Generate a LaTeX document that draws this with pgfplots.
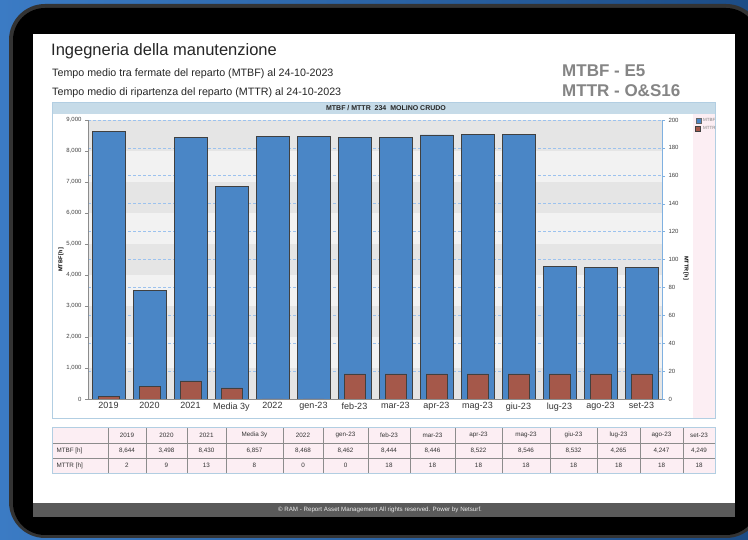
\documentclass[border=0pt]{standalone}
\usepackage{fontspec}
\setmainfont{Liberation Sans}
\usepackage{pgfplots}
\pgfplotsset{compat=1.18}
\definecolor{bgA}{HTML}{3B7BC4}
\definecolor{bgB}{HTML}{1C4C86}
\definecolor{footgray}{HTML}{5A5A5A}
\definecolor{titgray}{HTML}{858585}
\definecolor{pinkc}{HTML}{FCEEF3}
\definecolor{bandblue}{HTML}{C6DBE8}
\definecolor{panelb}{HTML}{B2CEE2}
\definecolor{mtbfc}{HTML}{4A86C6}
\definecolor{mttrc}{HTML}{A5584A}
\definecolor{bandD}{HTML}{E5E5E5}
\definecolor{bandL}{HTML}{F2F2F2}
\definecolor{gridc}{HTML}{9CC2EE}
\definecolor{raxis}{HTML}{7FB0E0}
\newcommand{\fs}[1]{\fontsize{#1}{#1}\selectfont}
\begin{document}
\begin{tikzpicture}
\begin{scope}[x=1pt,y=1pt]
\useasboundingbox (0,0) rectangle (748,540);
\shade[left color=bgA, right color=bgB] (0,0) rectangle (748,540);
\fill[black!80, rounded corners=36] (9,2) rectangle (762,536);
\fill[black, rounded corners=32] (13,5) rectangle (758,532);
\fill[white] (33,23) rectangle (735,506);
\fill[footgray] (33,23) rectangle (735,37);
\node[text=white!85!gray, font=\fs{6.2}] at (380,30) {\textcopyright{} RAM - Report Asset Management All rights reserved. Power by Netsurf.};
% header texts
\node[anchor=west, inner sep=0, font=\fs{16.5}, text=black!85] at (51,489) {Ingegneria della manutenzione};
\node[anchor=west, inner sep=0, font=\fs{10.7}, text=black!85] at (52,466) {Tempo medio tra fermate del reparto (MTBF) al 24-10-2023};
\node[anchor=west, inner sep=0, font=\fs{10.7}, text=black!85] at (52,447) {Tempo medio di ripartenza del reparto (MTTR) al 24-10-2023};
\node[anchor=west, inner sep=0, font=\bfseries\fs{17}, text=titgray] at (562,469) {MTBF - E5};
\node[anchor=west, inner sep=0, font=\bfseries\fs{17}, text=titgray] at (562,449) {MTTR - O\&S16};
% chart panel
\fill[white] (52,122) rectangle (715,438);
\fill[pinkc] (693,122) rectangle (715,426);
\fill[bandblue] (52,426) rectangle (715,438);
\draw[panelb] (52,122) rectangle (715,438);
\node[font=\bfseries\fs{7}, text=black!85] at (386,432) {MTBF / MTTR\ \ 234\ \ MOLINO CRUDO};
\node[rotate=90, font=\bfseries\fs{5.5}] at (61,280) {MTBF [h]};
\node[rotate=-90, font=\bfseries\fs{5.5}] at (686,272) {MTTR [h]};
\end{scope}
% left axis: MTBF
\begin{axis}[
  at={(88pt,141pt)}, anchor=south west,
  width=574pt, height=279pt, scale only axis,
  xmin=-0.5, xmax=13.5, ymin=0, ymax=9000,
  axis lines*=left, axis on top,
  axis line style={black!45},
  ytick={0,1000,...,9000},
  xtick={0,...,13},
  xticklabels={2019,2020,2021,Media 3y,2022,gen-23,feb-23,mar-23,apr-23,mag-23,giu-23,lug-23,ago-23,set-23},
  x tick label style={font=\fs{9}, text=black!80},
  y tick label style={font=\fs{6}, text=black!75},
  yticklabel style={/pgf/number format/1000 sep={,}},
  /pgf/number format/assume math mode=true,
  xtick style={draw=none},
  ytick style={draw=black!45},
  ytick align=outside, major tick length=3pt,
  axis background/.style={fill=bandL},
]
\fill[bandD] (axis cs:-0.5,0) rectangle (axis cs:13.5,1000);
\fill[bandD] (axis cs:-0.5,2000) rectangle (axis cs:13.5,3000);
\fill[bandD] (axis cs:-0.5,4000) rectangle (axis cs:13.5,5000);
\fill[bandD] (axis cs:-0.5,6000) rectangle (axis cs:13.5,7000);
\fill[bandD] (axis cs:-0.5,8000) rectangle (axis cs:13.5,9000);
\draw[gridc, dash pattern=on 3pt off 2pt, line width=0.7pt] (axis cs:-0.5,900) -- (axis cs:13.5,900);
\draw[gridc, dash pattern=on 3pt off 2pt, line width=0.7pt] (axis cs:-0.5,1800) -- (axis cs:13.5,1800);
\draw[gridc, dash pattern=on 3pt off 2pt, line width=0.7pt] (axis cs:-0.5,2700) -- (axis cs:13.5,2700);
\draw[gridc, dash pattern=on 3pt off 2pt, line width=0.7pt] (axis cs:-0.5,3600) -- (axis cs:13.5,3600);
\draw[gridc, dash pattern=on 3pt off 2pt, line width=0.7pt] (axis cs:-0.5,4500) -- (axis cs:13.5,4500);
\draw[gridc, dash pattern=on 3pt off 2pt, line width=0.7pt] (axis cs:-0.5,5400) -- (axis cs:13.5,5400);
\draw[gridc, dash pattern=on 3pt off 2pt, line width=0.7pt] (axis cs:-0.5,6300) -- (axis cs:13.5,6300);
\draw[gridc, dash pattern=on 3pt off 2pt, line width=0.7pt] (axis cs:-0.5,7200) -- (axis cs:13.5,7200);
\draw[gridc, dash pattern=on 3pt off 2pt, line width=0.7pt] (axis cs:-0.5,8100) -- (axis cs:13.5,8100);
\draw[gridc, dash pattern=on 3pt off 2pt, line width=0.7pt] (axis cs:-0.5,9000) -- (axis cs:13.5,9000);
\addplot[ybar, bar width=33pt, bar shift=0pt, fill=mtbfc, draw=black!75, line width=0.6pt]
  coordinates {(0,8644) (1,3498) (2,8430) (3,6857) (4,8468) (5,8462) (6,8444) (7,8446) (8,8522) (9,8546) (10,8532) (11,4265) (12,4247) (13,4249)};
\end{axis}
% right axis: MTTR
\begin{axis}[
  at={(88pt,141pt)}, anchor=south west,
  width=574pt, height=279pt, scale only axis,
  xmin=-0.5, xmax=13.5, ymin=0, ymax=200,
  axis y line*=right, axis x line=none,
  axis line style={raxis, line width=0.8pt},
  ytick={0,20,...,200},
  y tick label style={font=\fs{6}, text=black!75},
  /pgf/number format/assume math mode=true,
  ytick style={draw=raxis},
  ytick align=outside, major tick length=3pt,
  legend style={at={(1.058,1.012)}, anchor=north west, draw=none, fill=none,
    font=\fs{4.5}, text=black!50, inner sep=0pt, row sep=-1pt,
    legend cell align=left},
  legend image code/.code={\draw[#1] (0pt,-2.2pt) rectangle (5pt,2.8pt);},
]
\addlegendimage{fill=mtbfc, draw=black!60, line width=0.3pt}
\addlegendentry{MTBF}
\addplot[ybar, bar width=21pt, bar shift=0pt, fill=mttrc, draw=black!75, line width=0.6pt]
  coordinates {(0,2) (1,9) (2,13) (3,8) (4,0) (5,0) (6,18) (7,18) (8,18) (9,18) (10,18) (11,18) (12,18) (13,18)};
\addlegendentry{MTTR}
\end{axis}
% data table
\begin{scope}[x=1pt,y=1pt]
\fill[pinkc] (52,67) rectangle (715,113);
\foreach \a/\b/\h/\m/\r in {108/146/2019/{8,644}/2, 146/187/2020/{3,498}/9, 187/226/2021/{8,430}/13, 226/283/Media 3y/{6,857}/8, 283/323/2022/{8,468}/0, 323/368/gen-23/{8,462}/0, 368/410/feb-23/{8,444}/18, 410/455/mar-23/{8,446}/18, 455/502/apr-23/{8,522}/18, 502/550/mag-23/{8,546}/18, 550/597/giu-23/{8,532}/18, 597/640/lug-23/{4,265}/18, 640/683/ago-23/{4,247}/18, 683/715/set-23/{4,249}/18}{
  \draw[black!45] (\a,67) -- (\a,113);
  \node[font=\fs{6.3}, text=black!80] at ({(\a+\b)/2},105) {\h};
  \node[font=\fs{6.3}, text=black!80] at ({(\a+\b)/2},89.5) {\m};
  \node[font=\fs{6.3}, text=black!80] at ({(\a+\b)/2},74.5) {\r};
}
\draw[black!45] (52,97) -- (715,97);
\draw[black!45] (52,82) -- (715,82);
\draw[panelb, line width=0.8pt] (52,67) rectangle (715,113);
\node[anchor=west, font=\fs{6.3}, text=black!80] at (53,89.5) {MTBF [h]};
\node[anchor=west, font=\fs{6.3}, text=black!80] at (53,74.5) {MTTR [h]};
\end{scope}
\end{tikzpicture}
\end{document}
